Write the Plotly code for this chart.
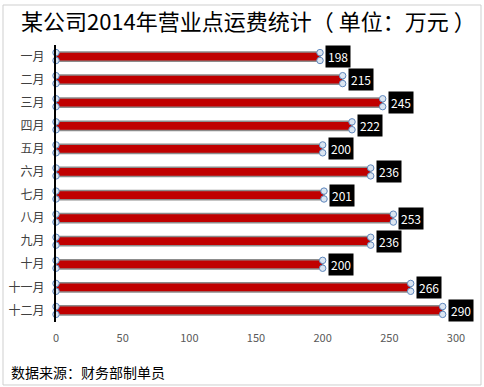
import plotly.graph_objects as go

months = ["一月", "二月", "三月", "四月", "五月", "六月", "七月", "八月", "九月", "十月", "十一月", "十二月"]
values = [198, 215, 245, 222, 200, 236, 201, 253, 236, 200, 266, 290]
x_ticks = [0, 50, 100, 150, 200, 250, 300]
title_text = "某公司2014年营业点运费统计（ 单位：万元 ）"
source_text = "数据来源：财务部制单员"

pos = list(range(len(months)))
FONT = "Noto Sans CJK SC, Microsoft YaHei, sans-serif"

fig = go.Figure()
fig.add_trace(go.Bar(
    x=values, y=pos, orientation="h",
    marker=dict(color="#C00000", line=dict(color="#8c8c8c", width=1.5)),
    width=0.4, hoverinfo="x+y", showlegend=False,
))

off = 0.17
cx, cy = [], []
for p, v in zip(pos, values):
    for xx in (0, v):
        for d in (-off, off):
            cx.append(xx)
            cy.append(p + d)
fig.add_trace(go.Scatter(
    x=cx, y=cy, mode="markers",
    marker=dict(symbol="circle", size=6.5, color="#dbe5f1",
                line=dict(color="#5f87bd", width=1)),
    showlegend=False, hoverinfo="skip", cliponaxis=False,
))

for p, v in zip(pos, values):
    fig.add_annotation(
        x=v, y=p, text=str(v), showarrow=False, xanchor="left", xshift=5,
        bgcolor="black", font=dict(color="white", size=12, family=FONT),
        borderpad=2,
    )

fig.add_annotation(
    xref="paper", yref="paper", x=-0.118, y=-0.18, xanchor="left", yanchor="middle",
    text=source_text, showarrow=False, font=dict(size=14, color="black", family=FONT),
)

fig.add_shape(type="rect", xref="paper", yref="paper",
              x0=-0.1325, x1=1.0625, y0=-0.2274, y1=1.1444,
              line=dict(color="#cfcfcf", width=1), layer="below")

fig.update_layout(
    width=484, height=387,
    margin=dict(l=56, r=28, t=45, b=65),
    paper_bgcolor="white", plot_bgcolor="white",
    font=dict(family=FONT),
    title=dict(text=title_text, x=0.513, xanchor="center", y=0.943, yanchor="middle",
               font=dict(size=22, color="black", family=FONT), automargin=False),
    bargap=0.6,
    xaxis=dict(range=[0, 300], tickvals=x_ticks, showgrid=False, zeroline=False,
               showline=False, ticks="outside", ticklen=6, tickcolor="rgba(0,0,0,0)",
               tickfont=dict(size=11, color="#595959", family=FONT), fixedrange=True,
               automargin=False),
    yaxis=dict(range=[11.5, -0.5], tickvals=pos, ticktext=months, showgrid=False,
               zeroline=False, showline=True, linecolor="black", linewidth=2,
               ticks="outside", ticklen=7, tickcolor="rgba(0,0,0,0)",
               tickfont=dict(size=12, color="#404040", family=FONT), fixedrange=True,
               automargin=False),
)

fig.write_html("out.html", config={"displayModeBar": False},
               post_script="document.body.style.margin='0';document.body.style.padding='0';")
